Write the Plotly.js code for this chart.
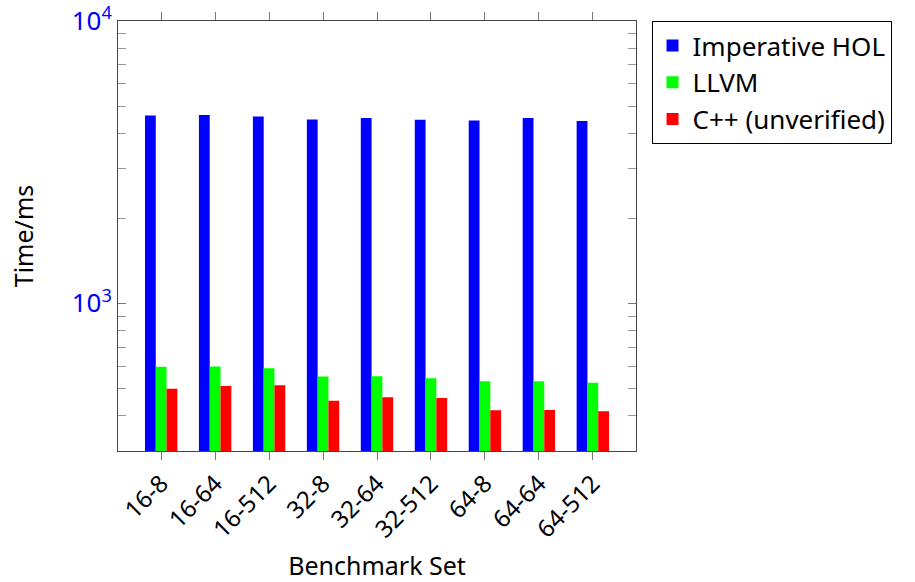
<!DOCTYPE html>
<html>
<head>
<meta charset="utf-8">
<script src="https://cdn.plot.ly/plotly-3.0.1.min.js"></script>
<style>html,body{margin:0;padding:0;background:#fff;}#chart{width:915px;height:582px;}</style>
</head>
<body>
<div id="chart"></div>
<script>
const categories = ['16-8','16-64','16-512','32-8','32-64','32-512','64-8','64-64','64-512'];
const imperativeHOL = [4628, 4643, 4590, 4480, 4535, 4470, 4444, 4532, 4422];
const llvm = [596, 597, 589, 551, 552, 543, 530, 530, 523];
const cpp = [498, 510, 513, 452, 465, 462, 418, 419, 415];
const yTickVals = [1000, 10000];
const yTickText = ['10<sup>3</sup>', '10<sup>4</sup>'];
const yMinorVals = [300,400,500,600,700,800,900,2000,3000,4000,5000,6000,7000,8000,9000];

const font = 'Noto Sans, DejaVu Sans, sans-serif';
const traces = [
  {type:'bar', name:'Imperative HOL', x:categories, y:imperativeHOL, marker:{color:'#0000ff', line:{width:0}}},
  {type:'bar', name:'LLVM', x:categories, y:llvm, marker:{color:'#00ff00', line:{width:0}}},
  {type:'bar', name:'C++ (unverified)', x:categories, y:cpp, marker:{color:'#ff0000', line:{width:0}}}
];
const layout = {
  width:915, height:582,
  margin:{l:118, r:279, t:21, b:131},
  paper_bgcolor:'#fff', plot_bgcolor:'#fff',
  font:{family:font, size:20, color:'#000'},
  barmode:'group', bargap:0.4, bargroupgap:0,
  showlegend:true,
  legend:{x:1.03, y:1.0, xanchor:'left', yanchor:'top', bordercolor:'#000', borderwidth:1,
          font:{family:font, size:26, color:'#000'}, itemwidth:30, tracegroupgap:0, bgcolor:'#fff'},
  xaxis:{type:'category', range:[-0.8, 8.8], showline:true, linecolor:'#444', linewidth:1, mirror:'allticks',
         ticks:'outside', ticklen:8, tickcolor:'#777', tickangle:-45, showgrid:false, zeroline:false,
         tickfont:{family:font, size:24, color:'#000'},
         title:{text:'Benchmark Set', font:{family:font, size:25, color:'#000'}, standoff:27}},
  yaxis:{type:'log', range:[Math.log10(300), 4], showline:true, linecolor:'#444', linewidth:1, mirror:'allticks',
         ticks:'inside', ticklen:8, tickcolor:'#777', tickmode:'array', tickvals:yTickVals, ticktext:yTickText,
         showgrid:false, zeroline:false, tickfont:{family:font, size:26, color:'#0000ff'},
         minor:{ticks:'inside', ticklen:8, tickcolor:'#999', tickmode:'array', tickvals:yMinorVals, showgrid:false},
         title:{text:'Time/ms', font:{family:font, size:25, color:'#000'}, standoff:30}}
};
Plotly.newPlot('chart', traces, layout, {displayModeBar:false, staticPlot:true});
</script>
</body>
</html>
